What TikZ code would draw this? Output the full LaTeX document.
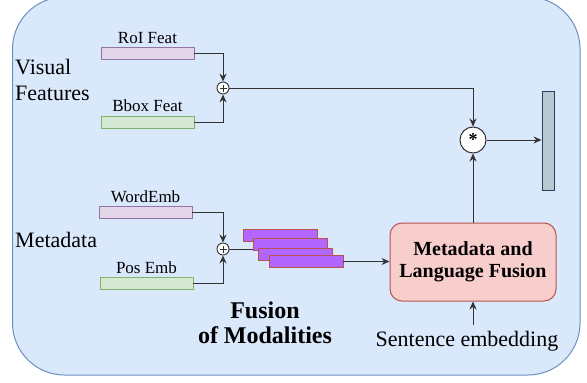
\documentclass[tikz,border=0pt]{standalone}
\usepackage{fontspec}
\setmainfont{Liberation Serif}
\usetikzlibrary{arrows.meta, positioning, calc}

\definecolor{bgfill}{HTML}{DAE8FC}
\definecolor{bgdraw}{HTML}{6C8EBF}
\definecolor{roifill}{HTML}{E1D5E7}
\definecolor{roidraw}{HTML}{9673A6}
\definecolor{bboxfill}{HTML}{D5E8D4}
\definecolor{bboxdraw}{HTML}{82B366}
\definecolor{seqfill}{HTML}{B266FF}
\definecolor{fusefill}{HTML}{F8CECC}
\definecolor{fusedraw}{HTML}{B85450}
\definecolor{outfill}{HTML}{BAC8D3}
\definecolor{outdraw}{HTML}{23445D}
\definecolor{wire}{HTML}{333333}

\begin{document}
\begin{tikzpicture}[
  x=1pt, y=-1pt,
  >={Stealth[length=8pt,width=7pt]},
  conn/.style={draw=wire, line width=1pt},
  feat/.style={draw, line width=0.9pt, minimum width=93pt, minimum height=12pt, inner sep=0pt},
  roi/.style={feat, fill=roifill, draw=roidraw},
  bbox/.style={feat, fill=bboxfill, draw=bboxdraw},
  seq/.style={draw=fusedraw, fill=seqfill, line width=0.9pt, minimum width=74pt, minimum height=12pt, inner sep=0pt},
  lbl/.style={inner sep=0pt, font=\fontsize{17}{17}\selectfont},
  big/.style={inner sep=0pt, font=\fontsize{22}{26}\selectfont},
  plus/.style={circle, draw=wire, fill=white, line width=0.9pt, minimum size=12pt, inner sep=0pt,
    path picture={
      \draw[wire, line width=0.7pt] ($(path picture bounding box.center)+(-3.5pt,0)$) -- ++(7pt,0);
      \draw[wire, line width=0.7pt] ($(path picture bounding box.center)+(0,-3.5pt)$) -- ++(0,7pt);
    }}
  ]
  \useasboundingbox (0,0) rectangle (587,383);
  \clip (0,0) rectangle (587,383);

  % panel
  \draw[fill=bgfill, draw=bgdraw, line width=1pt, rounded corners=52pt] (12.5,-3) rectangle (580,375);

  % visual features (base = last line)
  \node[big, align=left, anchor=base west] (vislbl) at (15,100) {Visual\\Features};
  \node[roi] (roi) at (147.5,53.5) {};
  \node[bbox] (bbox) at (147.5,122) {};
  \node[lbl, above=3pt of roi] (roilbl) {RoI Feat};
  \node[lbl, above=3.5pt of bbox] (bboxlbl) {Bbox Feat};
  \node[plus] (p1) at (223,88) {};
  \draw[conn, ->] (roi.east) -| (p1.north);
  \draw[conn, ->] (bbox.east) -| (p1.south);

  % metadata
  \node[big, anchor=base west] (metalbl) at (15,247) {Metadata};
  \node[roi] (wemb) at (145.5,212.5) {};
  \node[bbox] (pemb) at (146.5,283.5) {};
  \node[lbl, above=3.5pt of wemb] (wemblbl) {WordEmb};
  \node[lbl, above=3pt of pemb] (pemblbl) {Pos Emb};
  \node[plus] (p2) at (223,249) {};
  \draw[conn, ->] (wemb.east) -| (p2.north);
  \draw[conn, ->] (pemb.east) -| (p2.south);

  % stacked sequence
  \node[seq] (s1) at (280,235.5) {};
  \node[seq] (s2) at (290,244) {};
  \node[seq] (s3) at (295,254) {};
  \node[seq] (s4) at (306,261.5) {};
  \draw[conn] (p2.east) -- (p2.east -| s2.west);

  \node[align=center, inner sep=0pt, anchor=base, font=\fontsize{24}{25}\selectfont\bfseries] (fuslbl) at (265,343) {Fusion\\of Modalities};

  % fusion block and output
  \node[draw=fusedraw, fill=fusefill, line width=1pt, rounded corners=12pt, minimum width=166pt, minimum height=78pt,
        align=center, font=\fontsize{20}{22}\selectfont\bfseries] (fuse) at (473,262) {Metadata and\\Language Fusion};
  \draw[conn, ->] (s4.east) -- (s4.east -| fuse.west);

  \node[circle, draw=wire, fill=white, line width=1pt, minimum size=26pt, inner sep=0pt,
        font=\fontsize{18}{18}\selectfont\bfseries] (star) at (473,140) {\raisebox{-5pt}{*}};
  \node[draw=outdraw, fill=outfill, line width=0.9pt, minimum width=12pt, minimum height=99pt, inner sep=0pt] (out) at (548,140.5) {};

  \draw[conn, ->] (p1.east) -| (star.north);
  \draw[conn, ->] (fuse.north) -- (star.south);
  \draw[conn, ->] (star.east) -- (star.east -| out.west);

  \node[big, anchor=base] (sent) at (467,346) {Sentence embedding};
  \draw[conn, ->] (fuse.south |- 0,325) -- (fuse.south);
\end{tikzpicture}
\end{document}
